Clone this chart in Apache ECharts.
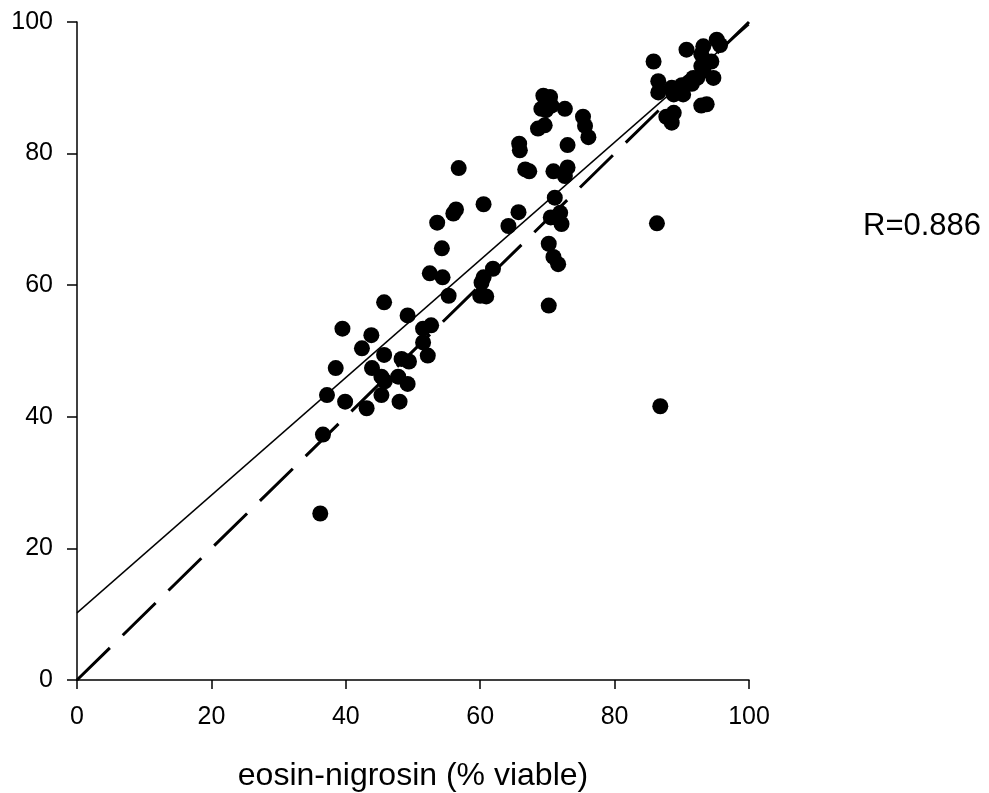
<!DOCTYPE html>
<html>
<head>
<meta charset="utf-8">
<script src="https://cdn.jsdelivr.net/npm/echarts@6/dist/echarts.min.js"></script>
<style>
html,body{margin:0;padding:0;background:#fff;}
#chart{width:989px;height:793px;}
</style>
</head>
<body>
<div id="chart"></div>
<script>
// eosin-nigrosin (% viable) vs other method (% viable)
var lowerCluster = [
  [36.2,25.3],[36.6,37.3],[37.2,43.3],[38.5,47.4],[39.5,53.4],[39.9,42.3],[42.4,50.4],[43.1,41.3],
  [43.8,52.4],[43.9,47.4],[45.7,57.4],[45.7,49.4],[45.3,46.1],[45.8,45.4],[45.3,43.3],[47.8,46.1],
  [48.0,42.3],[48.3,48.8],[49.4,48.4],[49.2,45.0],[49.2,55.4],[51.5,53.4],[52.7,53.9],[51.5,51.3],
  [52.2,49.3],[52.5,61.8],[53.6,69.5],[54.3,65.6],[54.4,61.2],[55.3,58.4],[56.0,70.9],[56.4,71.5],
  [56.8,77.8]
];
var middleCluster = [
  [60.0,58.4],[60.9,58.3],[60.2,60.4],[60.5,61.2],[61.9,62.5],[60.5,72.3],[64.2,69.0],[65.7,71.1],
  [65.8,81.5],[65.9,80.5],[66.7,77.6],[67.3,77.3],[68.6,83.8],[69.6,84.3],[69.4,88.8],[70.4,88.6],
  [69.1,86.8],[69.8,86.6],[70.6,87.3],[72.6,86.8],[70.2,66.3],[70.2,56.9],[70.9,77.3],[70.5,70.3],
  [71.3,70.3],[71.9,71.0],[72.1,69.3],[71.1,73.3],[70.9,64.3],[71.6,63.2],[73.0,77.9],[72.6,76.6],
  [73.0,81.3],[75.3,85.6],[75.6,84.2],[76.1,82.5]
];
var upperCluster = [
  [85.8,94.0],[90.7,95.8],[93.2,96.3],[92.9,95.1],[95.2,97.3],[95.7,96.5],[94.4,94.0],[94.7,91.5],
  [92.9,93.3],[93.2,92.6],[91.7,91.5],[91.0,90.8],[90.0,90.4],[89.2,89.6],[88.5,90.0],[88.8,89.0],
  [86.5,91.0],[86.5,89.3],[90.2,89.0],[89.7,89.3],[92.9,87.3],[93.7,87.5],[88.8,86.2],[88.5,84.7],
  [87.7,85.6],[92.3,91.5],[91.5,90.6],[86.3,69.4],[86.8,41.6]
];
var regressionLine = [[0,10.2],[100,99.6]];
var identityLine = [[0,0],[100,100]];
var xTicks = [0,20,40,60,80,100];
var yTicks = [0,20,40,60,80,100];
var rLabel = 'R=0.886';
var xTitle = 'eosin-nigrosin (% viable)';

var allPoints = lowerCluster.concat(middleCluster, upperCluster);
var FONT = 'Liberation Sans, Arial, sans-serif';

var chart = echarts.init(document.getElementById('chart'), null, {renderer:'canvas'});
chart.setOption({
  animation:false,
  backgroundColor:'#ffffff',
  grid:{left:77,right:240,top:22,bottom:113,containLabel:false,outerBoundsMode:'none'},
  xAxis:{
    type:'value',min:xTicks[0],max:xTicks[xTicks.length-1],interval:20,
    name:xTitle,nameLocation:'middle',nameGap:80,
    nameTextStyle:{color:'#000',fontSize:32,fontFamily:FONT},
    axisLine:{show:true,onZero:false,lineStyle:{color:'#000',width:1.5}},
    axisTick:{show:true,inside:false,length:9,lineStyle:{color:'#000',width:1.5}},
    axisLabel:{color:'#000',fontSize:25,fontFamily:FONT,margin:25},
    splitLine:{show:false}
  },
  yAxis:{
    type:'value',min:yTicks[0],max:yTicks[yTicks.length-1],interval:20,
    axisLine:{show:true,onZero:false,lineStyle:{color:'#000',width:1.5}},
    axisTick:{show:true,inside:false,length:10,lineStyle:{color:'#000',width:1.5}},
    axisLabel:{color:'#000',fontSize:25,fontFamily:FONT,margin:24},
    splitLine:{show:false}
  },
  graphic:[{
    type:'text',left:863,top:211,
    style:{text:rLabel,fill:'#000',fontSize:31,fontFamily:FONT}
  }],
  series:[
    {type:'line',data:identityLine,symbol:'none',silent:true,z:2,
     lineStyle:{color:'#000',width:3,type:[46,18],cap:'butt'}},
    {type:'line',data:regressionLine,symbol:'none',silent:true,z:2,
     lineStyle:{color:'#000',width:1.4}},
    {type:'scatter',data:allPoints,symbol:'circle',symbolSize:16,z:5,
     itemStyle:{color:'#000',opacity:1}}
  ]
});
</script>
</body>
</html>
